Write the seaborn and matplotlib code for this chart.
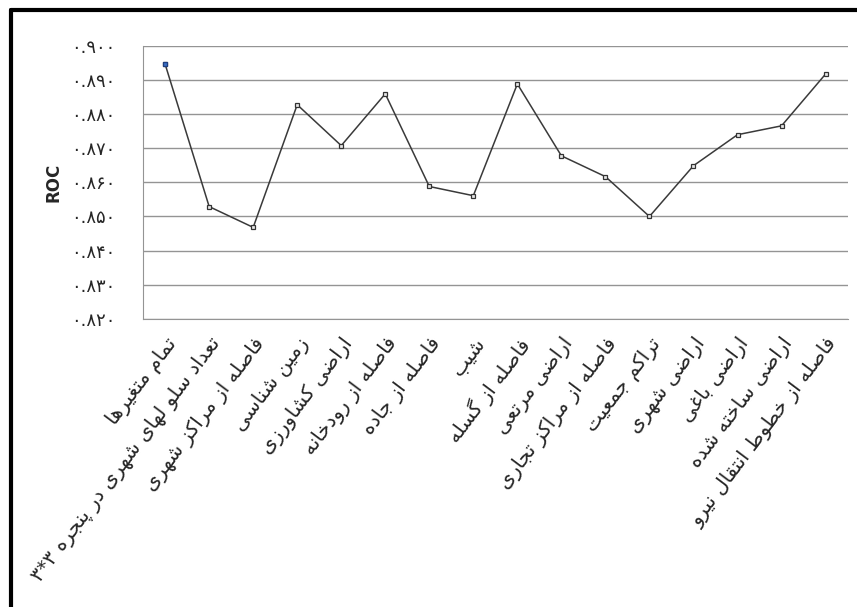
import matplotlib
matplotlib.use("Agg")
import matplotlib.pyplot as plt
import seaborn as sns
import pandas as pd
from matplotlib.lines import Line2D

# categories (Persian) and ROC values
categories = [
    "تمام متغیرها",
    "تعداد سلو لهای شهری در پنجره ۳*۳",
    "فاصله از مراکز شهری",
    "زمین شناسی",
    "اراضی کشاورزی",
    "فاصله از رودخانه",
    "فاصله از جاده",
    "شیب",
    "فاصله از گسله",
    "اراضی مرتعی",
    "فاصله از مراکز تجاری",
    "تراکم جمعیت",
    "اراضی شهری",
    "اراضی باغی",
    "اراضی ساخته شده",
    "فاصله از خطوط انتقال نیرو",
]
roc = [0.8947, 0.8529, 0.8468, 0.8828, 0.8708, 0.8860, 0.8588, 0.8561,
       0.8889, 0.8678, 0.8617, 0.8500, 0.8649, 0.8740, 0.8766, 0.8918]
yticks = [0.82, 0.83, 0.84, 0.85, 0.86, 0.87, 0.88, 0.89, 0.90]

# minimal Arabic/Persian shaping (matplotlib has no complex text layout)
# forms: isolated, final, initial, medial
FORMS = {
    "ء": (0xFE80,), "آ": (0xFE81, 0xFE82), "أ": (0xFE83, 0xFE84),
    "ؤ": (0xFE85, 0xFE86), "إ": (0xFE87, 0xFE88),
    "ئ": (0xFE89, 0xFE8A, 0xFE8B, 0xFE8C), "ا": (0xFE8D, 0xFE8E),
    "ب": (0xFE8F, 0xFE90, 0xFE91, 0xFE92), "ة": (0xFE93, 0xFE94),
    "ت": (0xFE95, 0xFE96, 0xFE97, 0xFE98), "ث": (0xFE99, 0xFE9A, 0xFE9B, 0xFE9C),
    "ج": (0xFE9D, 0xFE9E, 0xFE9F, 0xFEA0), "ح": (0xFEA1, 0xFEA2, 0xFEA3, 0xFEA4),
    "خ": (0xFEA5, 0xFEA6, 0xFEA7, 0xFEA8), "د": (0xFEA9, 0xFEAA),
    "ذ": (0xFEAB, 0xFEAC), "ر": (0xFEAD, 0xFEAE), "ز": (0xFEAF, 0xFEB0),
    "س": (0xFEB1, 0xFEB2, 0xFEB3, 0xFEB4), "ش": (0xFEB5, 0xFEB6, 0xFEB7, 0xFEB8),
    "ص": (0xFEB9, 0xFEBA, 0xFEBB, 0xFEBC), "ض": (0xFEBD, 0xFEBE, 0xFEBF, 0xFEC0),
    "ط": (0xFEC1, 0xFEC2, 0xFEC3, 0xFEC4), "ظ": (0xFEC5, 0xFEC6, 0xFEC7, 0xFEC8),
    "ع": (0xFEC9, 0xFECA, 0xFECB, 0xFECC), "غ": (0xFECD, 0xFECE, 0xFECF, 0xFED0),
    "ف": (0xFED1, 0xFED2, 0xFED3, 0xFED4), "ق": (0xFED5, 0xFED6, 0xFED7, 0xFED8),
    "ك": (0xFED9, 0xFEDA, 0xFEDB, 0xFEDC), "ل": (0xFEDD, 0xFEDE, 0xFEDF, 0xFEE0),
    "م": (0xFEE1, 0xFEE2, 0xFEE3, 0xFEE4), "ن": (0xFEE5, 0xFEE6, 0xFEE7, 0xFEE8),
    "ه": (0xFEE9, 0xFEEA, 0xFEEB, 0xFEEC), "و": (0xFEED, 0xFEEE),
    "ى": (0xFEEF, 0xFEF0), "ي": (0xFEF1, 0xFEF2, 0xFEF3, 0xFEF4),
    "پ": (0xFB56, 0xFB57, 0xFB58, 0xFB59), "چ": (0xFB7A, 0xFB7B, 0xFB7C, 0xFB7D),
    "ژ": (0xFB8A, 0xFB8B), "ک": (0xFB8E, 0xFB8F, 0xFB90, 0xFB91),
    "گ": (0xFB92, 0xFB93, 0xFB94, 0xFB95), "ی": (0xFBFC, 0xFBFD, 0xFBFE, 0xFBFF),
}


def shape(text):
    out = []
    n = len(text)
    for i, c in enumerate(text):
        if c not in FORMS:
            out.append(c)
            continue
        f = FORMS[c]
        prev = text[i - 1] if i > 0 else ""
        nxt = text[i + 1] if i < n - 1 else ""
        join_prev = prev in FORMS and len(FORMS[prev]) == 4 and len(f) > 1
        join_next = len(f) == 4 and nxt in FORMS and len(FORMS[nxt]) > 1
        if join_prev and join_next:
            out.append(chr(f[3]))
        elif join_prev:
            out.append(chr(f[1]))
        elif join_next:
            out.append(chr(f[2]))
        else:
            out.append(chr(f[0]))
    return "".join(out)[::-1]


def fa_digits(s):
    return s.translate(str.maketrans("0123456789", "۰۱۲۳۴۵۶۷۸۹"))


df = pd.DataFrame({"cat": categories, "roc": roc})

sns.set_style("white")
plt.rcParams["font.family"] = ["DejaVu Sans"]

fig = plt.figure(figsize=(8.57, 6.07), dpi=100)
ax = fig.add_axes([0.167, 0.475, 0.822, 0.449])

for y in yticks:
    ax.axhline(y, color="#949494", lw=1.0, zorder=0)

sns.lineplot(data=df, x="cat", y="roc", ax=ax, sort=False, color="#3a3a3a",
             lw=1.1, marker="s", markersize=3.5, markerfacecolor="#e8e8e8",
             markeredgecolor="#333333", markeredgewidth=0.9)
# first marker is blue
ax.plot([categories[0]], [roc[0]], marker="s", ms=3.5, mfc="#3a6fc4",
        mec="#1f3f80", mew=0.9, ls="none")

ax.set_xlim(-0.5, len(categories) - 0.5)
ax.set_ylim(0.82, 0.90)
ax.set_yticks(yticks)
ax.set_yticklabels([fa_digits(f"{v:.3f}") for v in yticks], fontsize=13)
ax.set_xticks(range(len(categories)))
ax.set_xticklabels([shape(c) for c in categories], rotation=53, ha="right",
                   rotation_mode="anchor", fontsize=14.5)
ax.tick_params(axis="y", length=0, pad=20)
ax.tick_params(axis="x", length=0, pad=11)
ax.set_xlabel("")
ax.set_ylabel("ROC", fontsize=12, fontweight="bold", labelpad=6)

for s in ["top", "right"]:
    ax.spines[s].set_visible(False)
ax.spines["left"].set_color("#949494")
ax.spines["bottom"].set_color("#949494")

# black frame on the left and top of the image
fig.add_artist(Line2D([0.013, 0.013], [0.0, 0.983], color="black", lw=3,
                      transform=fig.transFigure))
fig.add_artist(Line2D([0.013, 1.0], [0.983, 0.983], color="black", lw=3,
                      transform=fig.transFigure))

fig.savefig("out.png", dpi=100, facecolor="white")
